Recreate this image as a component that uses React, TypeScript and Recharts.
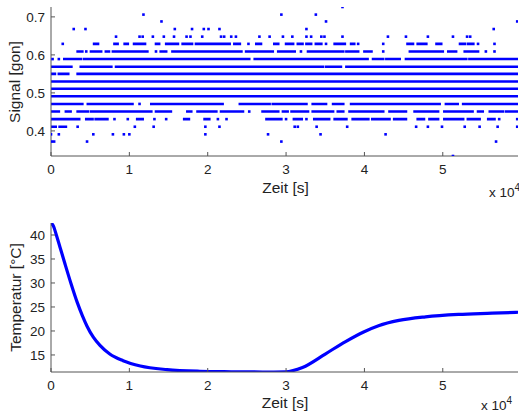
import { ComposedChart, Line, Scatter, XAxis, YAxis } from 'recharts';

const FONT = '"Liberation Sans", Arial, Helvetica, sans-serif';
const BLUE = '#0000ff';
const AXIS = '#555';
const INK = '#222';

// time axis, shared by both plots (x 10^4 s)
const TIME_DOMAIN = [0, 5.96];
const TIME_TICKS = [0, 1, 2, 3, 4, 5];

// top plot: quantised signal levels [gon]
const SIGNAL_LEVELS = [0.334, 0.372, 0.391, 0.411, 0.431, 0.451, 0.471, 0.491, 0.511, 0.53, 0.55, 0.569, 0.589, 0.609, 0.629, 0.648, 0.668, 0.688, 0.706, 0.726];
const SIGNAL_TICKS = [0.4, 0.5, 0.6, 0.7];

// stretches of time (x 10^4 s) where a level is densely filled, one list per level
const SIGNAL_RUNS: number[][][] = [
  [],
  [],
  [],
  [[0, 0.06], [0.11, 0.19]],
  [[0, 0.36], [0.45, 0.53], [0.57, 0.72], [1.1, 1.17], [1.7, 1.76], [1.96, 2.02], [2.75, 2.94], [3.1, 3.2], [3.36, 3.55], [3.62, 3.77], [3.85, 4.05], [4.1, 4.32], [4.38, 4.53], [4.68, 4.76], [4.83, 4.94], [5.02, 5.26], [5.32, 5.47], [5.58, 5.66]],
  [[0, 0.1], [0.19, 0.25], [0.34, 0.47], [0.51, 0.85], [0.87, 1.28], [1.34, 1.53], [1.74, 1.79], [1.87, 2.11], [2.17, 2.45], [2.7, 2.9], [2.96, 3.02], [3.07, 3.28], [3.34, 3.6], [3.66, 3.73], [3.81, 4.07], [4.09, 4.24], [4.32, 4.53], [4.64, 4.94], [5.02, 5.38], [5.45, 5.51], [5.6, 5.77], [5.81, 5.96]],
  [[0, 0.4], [0.47, 1.04], [1.28, 2.07], [2.09, 2.19], [2.41, 2.79], [2.83, 3.26], [3.34, 3.51], [3.6, 3.73], [3.83, 4.96], [5.04, 5.19], [5.26, 5.66], [5.68, 5.96]],
  [[0, 0.77], [0.8, 1.26], [1.29, 1.73], [1.76, 2.17], [2.2, 3.1], [3.13, 4.5], [4.53, 5.96]],
  [[0, 5.96]],
  [[0, 5.96]],
  [[0, 0.05], [0.1, 0.22], [0.34, 3.7], [3.73, 5.96]],
  [[0, 0.1], [0.13, 0.26], [0.38, 0.57], [0.6, 0.77], [0.83, 1.06], [1.09, 3.47], [3.51, 3.7], [3.77, 3.9], [3.92, 4.34], [4.37, 4.55], [4.58, 4.85], [4.88, 5.49], [5.52, 5.96]],
  [[0.17, 0.38], [0.42, 0.51], [0.53, 0.79], [0.81, 2.53], [2.6, 2.81], [2.83, 4.04], [4.11, 4.24], [4.28, 4.45], [4.53, 5.3], [5.34, 5.96]],
  [[0.34, 0.4], [0.51, 0.64], [0.7, 0.74], [0.79, 1.23], [1.4, 1.47], [1.55, 1.8], [1.83, 2.1], [2.13, 2.43], [2.49, 2.83], [2.9, 3.11], [3.28, 3.73], [3.77, 3.92], [4.0, 4.09], [4.58, 5.0], [5.07, 5.17], [5.28, 5.45]],
  [[0.55, 0.6], [0.81, 0.85], [0.94, 0.98], [1.06, 1.2], [1.34, 1.38], [1.47, 1.62], [1.68, 1.8], [1.85, 2.15], [2.17, 2.28], [2.34, 2.41], [2.62, 2.68], [2.85, 2.9], [3.0, 3.09], [3.15, 3.21], [3.26, 3.32], [3.38, 3.45], [3.62, 3.75], [3.83, 3.87], [4.55, 4.62], [4.68, 4.79], [4.92, 4.98], [5.22, 5.28], [5.32, 5.39]],
  [],
  [],
  [],
  [],
  [],
];

// single samples (x 10^4 s), one list per level
const SIGNAL_DOTS: number[][] = [
  [5.13],
  [0.01, 0.04, 0.46, 2.94, 5.68],
  [0.0, 0.1, 0.54, 0.79, 0.93, 1.0, 1.97, 2.77, 3.44, 4.27],
  [0.34, 1.07, 1.31, 1.97, 2.15, 3.11, 3.15, 3.39, 3.78, 4.66, 4.81, 4.99, 5.28, 5.47, 5.7, 5.95],
  [0.81, 0.98, 1.32, 1.47, 2.13, 2.24, 3.0, 3.26, 5.72, 5.95],
  [2.53],
  [1.13],
  [],
  [],
  [],
  [],
  [],
  [0.02, 0.1],
  [0.45, 1.34, 3.19, 4.24, 5.55, 5.66],
  [0.15, 2.52, 3.51, 3.92, 4.24, 5.45, 5.66],
  [0.83, 1.13, 1.17, 1.3, 1.44, 1.57, 1.73, 1.78, 1.93, 2.17, 2.21, 2.3, 2.36, 2.66, 2.79, 2.96, 3.08, 3.26, 3.32, 3.45, 3.49, 3.72, 4.3, 4.53, 4.81, 5.13, 5.31, 5.35],
  [0.29, 0.44, 1.58, 1.8, 1.95, 2.01, 2.15, 3.26, 5.65],
  [1.41, 3.51, 5.95],
  [1.18, 2.94, 3.38],
  [3.72],
];

// bottom plot: temperature curve
const TEMP_TIME = [0, 0.03, 0.07, 0.12, 0.18, 0.255, 0.336, 0.4, 0.46, 0.54, 0.625, 0.75, 0.92, 1.14, 1.48, 1.9, 2.3, 2.7, 2.99, 3.21, 3.5, 3.76, 3.99, 4.18, 4.44, 4.78, 5.2, 5.63, 5.96];
const TEMP_VALUES = [42.5, 41.9, 39.9, 37.2, 33.9, 29.9, 25.9, 23.2, 21.0, 18.7, 17.0, 15.2, 13.8, 12.7, 11.95, 11.6, 11.5, 11.45, 11.5, 12.4, 15.2, 17.8, 19.8, 21.1, 22.2, 22.95, 23.45, 23.7, 23.9];
const TEMP_TICKS = [15, 20, 25, 30, 35, 40];

const signalLines = SIGNAL_LEVELS.map((lvl, i) =>
  SIGNAL_RUNS[i].flatMap(([a, b]) => [
    { x: a, y: lvl },
    { x: b, y: lvl },
    { x: b, y: null },
  ])
);
const signalDots = SIGNAL_LEVELS.flatMap((lvl, i) => SIGNAL_DOTS[i].map(x => ({ x, y: lvl })));
const tempData = TEMP_TIME.map((x, i) => ({ x, y: TEMP_VALUES[i] }));

const TICK_LEN = 4;

function BottomTick({ x, y, payload }: any) {
  return (
    <g>
      <line x1={x} x2={x} y1={y} y2={y - TICK_LEN} stroke={AXIS} />
      <text x={x} y={y + 18} textAnchor="middle" fontSize={13.5} fontFamily={FONT} fill={INK}>{payload.value}</text>
    </g>
  );
}

function TopTick({ x, y }: any) {
  return <line x1={x} x2={x} y1={y} y2={y + TICK_LEN} stroke={AXIS} />;
}

function LeftTick({ x, y, payload }: any) {
  return (
    <g>
      <line x1={x} x2={x + TICK_LEN} y1={y} y2={y} stroke={AXIS} />
      <text x={x - 6} y={y} dy="0.36em" textAnchor="end" fontSize={13.5} fontFamily={FONT} fill={INK}>{payload.value}</text>
    </g>
  );
}

function RightTick({ x, y }: any) {
  return <line x1={x} x2={x - TICK_LEN} y1={y} y2={y} stroke={AXIS} />;
}

function Dot({ cx, cy }: any) {
  return <rect x={cx - 1.3} y={cy - 1.3} width={2.6} height={2.6} fill={BLUE} />;
}

function Frame({ yDomain, yTicks, xHeight }: { yDomain: number[]; yTicks: number[]; xHeight: number }) {
  return [
    <XAxis key="xb" xAxisId="b" dataKey="x" type="number" domain={TIME_DOMAIN} ticks={TIME_TICKS} allowDataOverflow
      height={xHeight} tickSize={0} tickMargin={0} tick={<BottomTick />} axisLine={{ stroke: AXIS }} />,
    <XAxis key="xt" xAxisId="t" orientation="top" dataKey="x" type="number" domain={TIME_DOMAIN} ticks={TIME_TICKS} allowDataOverflow
      height={0} tickSize={0} tickMargin={0} tick={<TopTick />} axisLine={{ stroke: AXIS }} />,
    <YAxis key="yl" yAxisId="l" dataKey="y" type="number" domain={yDomain} ticks={yTicks} allowDataOverflow
      width={51} tickSize={0} tickMargin={0} tick={<LeftTick />} axisLine={{ stroke: AXIS }} />,
    <YAxis key="yr" yAxisId="r" orientation="right" dataKey="y" type="number" domain={yDomain} ticks={yTicks} allowDataOverflow
      width={0} tickSize={0} tickMargin={0} tick={<RightTick />} axisLine={{ stroke: AXIS }} />,
  ];
}

export default function App() {
  return (
    <div style={{ position: 'absolute', left: 0, top: 0, width: 519, height: 416, background: '#fff', overflow: 'hidden' }}>
      <div style={{ position: 'absolute', left: 0, top: 0 }}>
        <ComposedChart width={519} height={208} margin={{ top: 7, right: 1, bottom: 0, left: 0 }}>
          {Frame({ yDomain: [0.334, 0.726], yTicks: SIGNAL_TICKS, xHeight: 52 })}
          {signalLines.map((d, i) =>
            d.length ? (
              <Line key={i} xAxisId="b" yAxisId="l" data={d} dataKey="y" stroke={BLUE} strokeWidth={2.6}
                strokeLinecap="square" dot={false} activeDot={false} isAnimationActive={false} />
            ) : null
          )}
          <Scatter xAxisId="b" yAxisId="l" data={signalDots} dataKey="y" shape={<Dot />} isAnimationActive={false} />
        </ComposedChart>
      </div>
      <div style={{ position: 'absolute', left: 0, top: 208 }}>
        <ComposedChart width={519} height={208} margin={{ top: 15, right: 1, bottom: 0, left: 0 }}>
          {Frame({ yDomain: [11.45, 42.5], yTicks: TEMP_TICKS, xHeight: 44 })}
          <Line xAxisId="b" yAxisId="l" data={tempData} dataKey="y" type="monotone" stroke={BLUE} strokeWidth={3.2}
            strokeLinecap="round" dot={false} activeDot={false} isAnimationActive={false} />
        </ComposedChart>
      </div>
      <svg width={519} height={416} style={{ position: 'absolute', left: 0, top: 0, pointerEvents: 'none' }}
        fontFamily={FONT} fill={INK}>
        <text x={14} y={82} fontSize={15.5} textAnchor="middle" dominantBaseline="central" transform="rotate(-90 14 82)">Signal [gon]</text>
        <text x={285.5} y={193} fontSize={15.5} textAnchor="middle">Zeit [s]</text>
        <text x={489} y={197} fontSize={13.5}>x 10<tspan dy={-6} fontSize={10}>4</tspan></text>
        <text x={15} y={297.5} fontSize={15.5} textAnchor="middle" dominantBaseline="central" transform="rotate(-90 15 297.5)">Temperatur [°C]</text>
        <text x={285} y={408} fontSize={15.5} textAnchor="middle">Zeit [s]</text>
        <text x={481} y={410} fontSize={13.5}>x 10<tspan dy={-6} fontSize={10}>4</tspan></text>
      </svg>
    </div>
  );
}
